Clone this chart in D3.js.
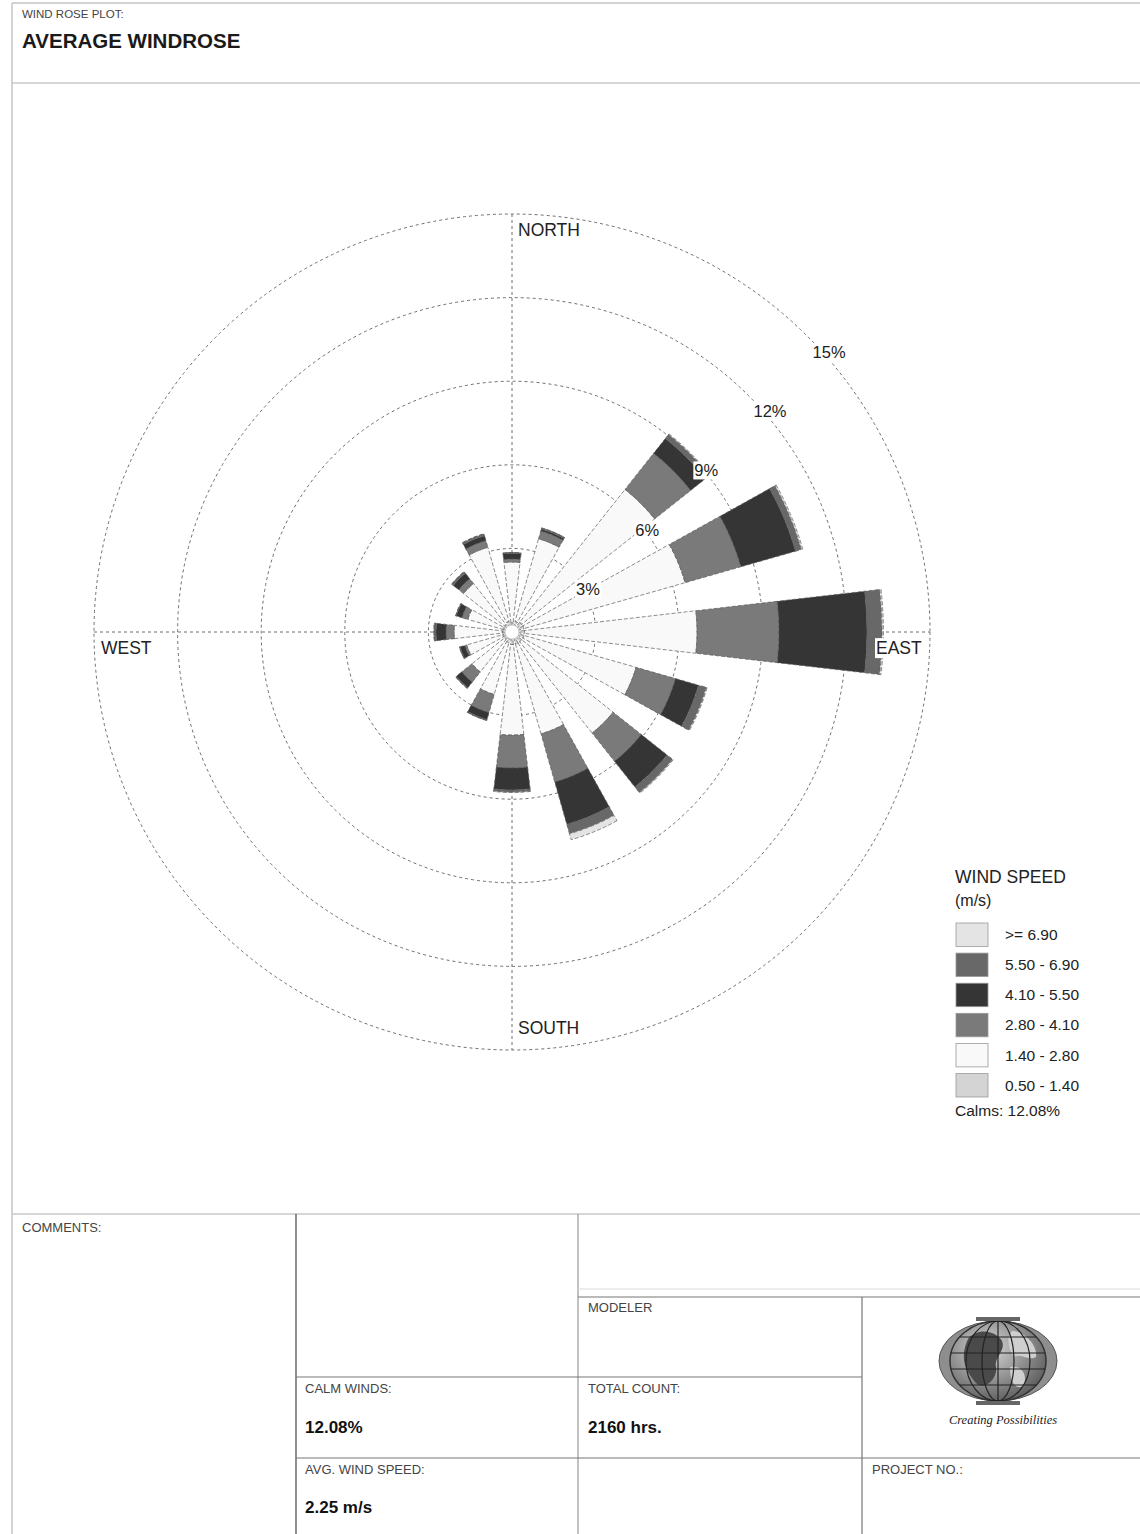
<!DOCTYPE html>
<html>
<head>
<meta charset="utf-8">
<script src="https://cdn.jsdelivr.net/npm/d3@7"></script>
<style>
  html, body { margin: 0; padding: 0; background: #fff; }
  svg { display: block; font-family: "Liberation Sans", Arial, sans-serif; }
</style>
</head>
<body>
<svg id="chart" width="1140" height="1534"></svg>
<script>
// Wind rose data (percent of hours)
const directions = ['N', 'NNE', 'NE', 'ENE', 'E', 'ESE', 'SE', 'SSE', 'S', 'SSW', 'SW', 'WSW', 'W', 'WNW', 'NW', 'NNW'];
const speedBins = ['0.50 - 1.40', '1.40 - 2.80', '2.80 - 4.10', '4.10 - 5.50', '5.50 - 6.90', '>= 6.90'];

const speed_050_140 = [0.35, 0.40, 0.45, 0.45, 0.45, 0.45, 0.45, 0.45, 0.45, 0.40, 0.35, 0.35, 0.35, 0.35, 0.35, 0.40];
const speed_140_280 = [2.16, 3.08, 6.08, 6.01, 6.19, 4.18, 4.18, 3.35, 3.25, 1.93, 1.48, 1.34, 1.73, 1.30, 1.87, 2.76];
const speed_280_410 = [0.11, 0.29, 1.65, 2.08, 2.94, 1.47, 1.29, 1.80, 1.18, 0.68, 0.47, 0.07, 0.29, 0.22, 0.22, 0.25];
const speed_410_550 = [0.21, 0.07, 0.68, 2.04, 3.16, 0.86, 1.18, 1.58, 0.79, 0.26, 0.25, 0.18, 0.36, 0.21, 0.25, 0.18];
const speed_550_690 = [0.02, 0.04, 0.18, 0.22, 0.54, 0.29, 0.25, 0.35, 0.07, 0.03, 0.03, 0.02, 0.07, 0.02, 0.07, 0.07];
const speed_690_up  = [0.00, 0.00, 0.03, 0.05, 0.05, 0.03, 0.03, 0.22, 0.02, 0.00, 0.00, 0.00, 0.00, 0.00, 0.00, 0.00];

const ringTicks = [3, 6, 9, 12, 15];
const calmPercent = '12.08%';
const totalCount = '2160 hrs.';
const avgWindSpeed = '2.25 m/s';

const binColors = ['#d4d4d4', '#f9f9f9', '#7a7a7a', '#353535', '#686868', '#e4e4e4'];

const svg = d3.select('#chart');
const cx = 512, cy = 632;

// ---------- page frame ----------
const frame = svg.append('g').attr('class', 'frame');
frame.append('line').attr('x1', 12).attr('y1', 3).attr('x2', 1140).attr('y2', 3).attr('stroke', '#c4c4c4').attr('stroke-width', 1.5);
frame.append('line').attr('x1', 12).attr('y1', 3).attr('x2', 12).attr('y2', 1534).attr('stroke', '#c4c4c4').attr('stroke-width', 1.5);
frame.append('line').attr('x1', 12).attr('y1', 83).attr('x2', 1140).attr('y2', 83).attr('stroke', '#c8c8c8').attr('stroke-width', 1.5);
frame.append('line').attr('x1', 12).attr('y1', 1214).attr('x2', 1140).attr('y2', 1214).attr('stroke', '#c8c8c8').attr('stroke-width', 1.5);

svg.append('text').attr('x', 22).attr('y', 18)
  .style('font-size', '11.5px').style('fill', '#444').text('WIND ROSE PLOT:');
svg.append('text').attr('x', 22).attr('y', 48)
  .style('font-size', '20.5px').style('font-weight', 700).style('fill', '#1a1a1a').text('AVERAGE WINDROSE');

// ---------- rose ----------
const r = d3.scaleLinear().domain([0, 15]).range([0, 418]);
const angle = d3.scalePoint().domain(directions).range([0, 2 * Math.PI * 15 / 16]);
const half = (13.2 / 2) * Math.PI / 180;

const rose = svg.append('g').attr('transform', `translate(${cx},${cy})`);

// grid rings and axes
rose.append('g').selectAll('circle')
  .data(ringTicks)
  .enter().append('circle')
  .attr('r', d => r(d))
  .attr('fill', 'none')
  .attr('stroke', '#6e6e6e')
  .attr('stroke-width', 1)
  .attr('stroke-dasharray', '3,3');

rose.append('line').attr('x1', 0).attr('y1', -r(15)).attr('x2', 0).attr('y2', r(15))
  .attr('stroke', '#6e6e6e').attr('stroke-dasharray', '3,3');
rose.append('line').attr('x1', -r(15)).attr('y1', 0).attr('x2', r(15)).attr('y2', 0)
  .attr('stroke', '#6e6e6e').attr('stroke-dasharray', '3,3');

// stacked wedges
const rows = directions.map((d, i) => ({
  dir: d,
  [speedBins[0]]: speed_050_140[i],
  [speedBins[1]]: speed_140_280[i],
  [speedBins[2]]: speed_280_410[i],
  [speedBins[3]]: speed_410_550[i],
  [speedBins[4]]: speed_550_690[i],
  [speedBins[5]]: speed_690_up[i]
}));
const series = d3.stack().keys(speedBins)(rows);
const arc = d3.arc();

rose.append('g').selectAll('g')
  .data(series)
  .enter().append('g')
  .attr('fill', (d, i) => binColors[i])
  .selectAll('path')
  .data(d => d)
  .enter().append('path')
  .attr('d', d => arc({
    innerRadius: r(d[0]),
    outerRadius: r(d[1]),
    startAngle: angle(d.data.dir) - half,
    endAngle: angle(d.data.dir) + half
  }))
  .attr('stroke', '#5a5a5a')
  .attr('stroke-width', 0.7)
  .attr('stroke-dasharray', '4,2');

// calm hub
rose.append('circle').attr('r', 7).attr('fill', '#fff').attr('stroke', '#bbb').attr('stroke-width', 0.6);

// ring labels with white background
const ringLabel = rose.append('g').selectAll('g')
  .data(ringTicks)
  .enter().append('g')
  .attr('transform', d => `translate(${r(d) * Math.SQRT1_2 + 5},${-r(d) * Math.SQRT1_2 + 16})`);
ringLabel.append('rect');
ringLabel.append('text')
  .attr('dy', '0.35em')
  .style('font-size', '16.5px')
  .style('fill', '#222')
  .text(d => d + '%');

// compass labels
const compass = [
  { label: 'NORTH', x: 6, y: -402 },
  { label: 'SOUTH', x: 6, y: 396 },
  { label: 'WEST', x: -411, y: 16 },
  { label: 'EAST', x: 364, y: 16 }
];
const compassLabel = rose.append('g').selectAll('g')
  .data(compass)
  .enter().append('g')
  .attr('transform', d => `translate(${d.x},${d.y})`);
compassLabel.append('rect');
compassLabel.append('text')
  .attr('dy', '0.35em')
  .style('font-size', '17.5px')
  .style('fill', '#222')
  .text(d => d.label);

rose.selectAll('g > rect').each(function() {
  const t = d3.select(this.parentNode).select('text').node().getBBox();
  d3.select(this)
    .attr('x', t.x - 1).attr('y', t.y)
    .attr('width', t.width + 2).attr('height', t.height)
    .attr('fill', '#fff');
});

// ---------- legend ----------
const legend = svg.append('g').attr('transform', 'translate(955,0)');
legend.append('text').attr('x', 0).attr('y', 883).style('font-size', '17.5px').style('fill', '#222').text('WIND SPEED');
legend.append('text').attr('x', 0).attr('y', 906).style('font-size', '16px').style('fill', '#222').text('(m/s)');

const legendOrder = speedBins.map((d, i) => ({ label: d, color: binColors[i] })).reverse();
const legendY = d3.scaleBand().domain(legendOrder.map(d => d.label)).range([923, 1097]).paddingInner(0.22);

const item = legend.selectAll('.item')
  .data(legendOrder)
  .enter().append('g')
  .attr('class', 'item')
  .attr('transform', d => `translate(0,${legendY(d.label)})`);
item.append('rect')
  .attr('x', 1).attr('width', 32).attr('height', legendY.bandwidth())
  .attr('fill', d => d.color)
  .attr('stroke', '#999').attr('stroke-width', 0.8);
item.append('text')
  .attr('x', 50).attr('y', legendY.bandwidth() / 2).attr('dy', '0.35em')
  .style('font-size', '15.5px').style('fill', '#222')
  .text(d => d.label);

legend.append('text').attr('x', 0).attr('y', 1116).style('font-size', '15.5px').style('fill', '#222').text('Calms: ' + calmPercent);

// ---------- bottom info table ----------
const table = svg.append('g').attr('class', 'table');
const tLines = [
  [296, 1214, 296, 1534, '#444'],
  [578, 1214, 578, 1534, '#999'],
  [862, 1297, 862, 1534, '#777'],
  [578, 1289, 1140, 1289, '#dcdcdc'],
  [578, 1297, 1140, 1297, '#777'],
  [296, 1377, 862, 1377, '#777'],
  [296, 1458, 1140, 1458, '#777']
];
table.selectAll('line').data(tLines).enter().append('line')
  .attr('x1', d => d[0]).attr('y1', d => d[1]).attr('x2', d => d[2]).attr('y2', d => d[3])
  .attr('stroke', d => d[4]).attr('stroke-width', 1.2);

const infoText = [
  { t: 'COMMENTS:', x: 22, y: 1232, bold: false },
  { t: 'CALM WINDS:', x: 305, y: 1393, bold: false },
  { t: calmPercent, x: 305, y: 1433, bold: true },
  { t: 'AVG. WIND SPEED:', x: 305, y: 1474, bold: false },
  { t: avgWindSpeed, x: 305, y: 1513, bold: true },
  { t: 'MODELER', x: 588, y: 1312, bold: false },
  { t: 'TOTAL COUNT:', x: 588, y: 1393, bold: false },
  { t: totalCount, x: 588, y: 1433, bold: true },
  { t: 'PROJECT NO.:', x: 872, y: 1474, bold: false }
];
table.selectAll('text').data(infoText).enter().append('text')
  .attr('x', d => d.x).attr('y', d => d.y)
  .style('font-size', d => d.bold ? '17px' : '13px')
  .style('font-weight', d => d.bold ? 700 : 400)
  .style('fill', d => d.bold ? '#111' : '#444')
  .text(d => d.t);

// ---------- logo ----------
const defs = svg.append('defs');
const grad = defs.append('radialGradient').attr('id', 'globe').attr('cx', '40%').attr('cy', '35%').attr('r', '70%');
grad.append('stop').attr('offset', '0%').attr('stop-color', '#d8d8d8');
grad.append('stop').attr('offset', '100%').attr('stop-color', '#5a5a5a');

const logo = svg.append('g').attr('transform', 'translate(998,1361)');
logo.append('ellipse').attr('rx', 59).attr('ry', 40).attr('fill', '#8e8e8e').attr('stroke', '#555').attr('stroke-width', 1);
logo.append('ellipse').attr('rx', 48).attr('ry', 40).attr('fill', 'url(#globe)').attr('stroke', '#333').attr('stroke-width', 1.5);
logo.append('path')
  .attr('d', 'M-30,-22 C-20,-34 -2,-30 4,-20 C8,-10 -4,-4 -2,6 C0,18 -14,30 -22,22 C-30,12 -40,0 -30,-22 Z')
  .attr('fill', '#4a4a4a');
logo.append('path')
  .attr('d', 'M14,-30 C26,-30 40,-16 38,-4 C30,0 22,-8 16,-4 C10,-12 8,-24 14,-30 Z M12,6 C22,4 30,12 26,24 C20,30 12,24 12,6 Z')
  .attr('fill', '#cfcfcf');
[16, 32].forEach(rx => {
  logo.append('ellipse').attr('rx', rx).attr('ry', 40).attr('fill', 'none').attr('stroke', '#222').attr('stroke-width', 1.2);
});
[-24, -8, 8, 24].forEach(y => {
  const w = 48 * Math.sqrt(1 - (y / 40) * (y / 40));
  logo.append('line').attr('x1', -w).attr('x2', w).attr('y1', y).attr('y2', y).attr('stroke', '#222').attr('stroke-width', 1);
});
logo.append('line').attr('x1', 0).attr('x2', 0).attr('y1', -40).attr('y2', 40).attr('stroke', '#222').attr('stroke-width', 1.2);
logo.append('rect').attr('x', -22).attr('y', -44).attr('width', 44).attr('height', 4).attr('fill', '#666');
logo.append('rect').attr('x', -22).attr('y', 40).attr('width', 44).attr('height', 4).attr('fill', '#666');

svg.append('text').attr('x', 1003).attr('y', 1424)
  .attr('text-anchor', 'middle')
  .style('font-family', '"Liberation Serif", "Times New Roman", serif')
  .style('font-style', 'italic')
  .style('font-size', '12.5px')
  .style('fill', '#222')
  .text('Creating Possibilities');
</script>
</body>
</html>
